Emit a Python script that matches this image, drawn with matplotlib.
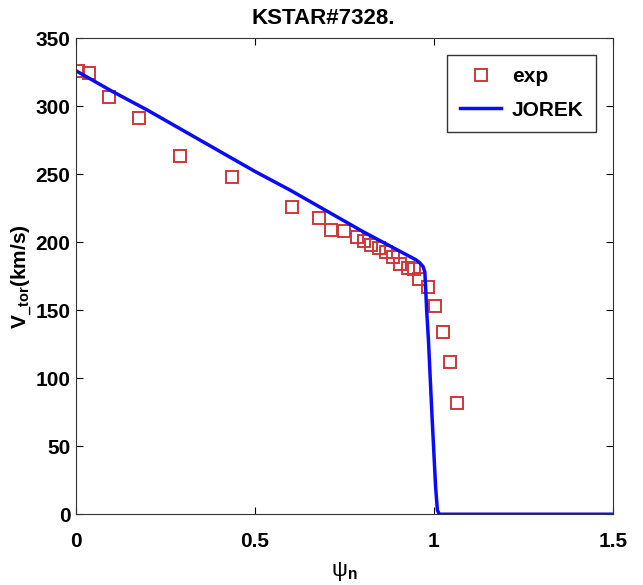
import matplotlib
matplotlib.use("Agg")
import matplotlib.pyplot as plt

# exp data points
psi_exp = [0.006, 0.036, 0.092, 0.176, 0.29, 0.436, 0.603, 0.679, 0.712, 0.749,
           0.785, 0.804, 0.824, 0.846, 0.866, 0.885, 0.905, 0.927, 0.944, 0.958,
           0.983, 1.003, 1.025, 1.045, 1.064]
v_exp = [326, 324, 307, 291, 263, 248, 226, 218, 209, 208,
         204, 201, 198, 196, 193, 189, 184, 181, 180, 173,
         167, 153, 134, 112, 82]

# JOREK profile
psi_jorek = [0, 0.1, 0.2, 0.3, 0.4, 0.5, 0.6, 0.7, 0.8, 0.9, 0.95, 0.96, 0.97,
             0.975, 0.98, 0.985, 0.99, 0.995, 1.0, 1.005, 1.01, 1.015, 1.1, 1.2,
             1.3, 1.4, 1.5]
v_jorek = [326, 311, 297, 282, 267, 252, 238, 223, 208, 194, 187, 185, 182,
           178, 150, 128, 100, 72, 46, 20, 3, 0, 0, 0,
           0, 0, 0]

plt.rcParams['font.family'] = ['Liberation Sans', 'DejaVu Sans']
plt.rcParams['mathtext.fontset'] = 'custom'
plt.rcParams['mathtext.rm'] = 'Liberation Sans'
plt.rcParams['mathtext.bf'] = 'Liberation Sans:bold'

fig = plt.figure(figsize=(6.43, 5.85), dpi=100)
ax = fig.add_axes([0.118, 0.121, 0.835, 0.814])

ax.plot(psi_exp, v_exp, 's', mfc='none', mec='#d03838', mew=1.4, ms=8, label='exp')
ax.plot(psi_jorek, v_jorek, '-', color='#0a0aff', lw=2.5, label='JOREK')

ax.set_xlim(0, 1.5)
ax.set_ylim(0, 350)
ax.set_xticks([0, 0.5, 1, 1.5])
ax.set_xticklabels(['0', '0.5', '1', '1.5'])
ax.set_yticks(range(0, 351, 50))
ax.tick_params(direction='in', length=5, top=True, right=True, labelsize=15)
ax.tick_params(axis='x', pad=13)
ax.tick_params(axis='y', pad=4)
for lab in ax.get_xticklabels() + ax.get_yticklabels():
    lab.set_fontweight('bold')
for s in ax.spines.values():
    s.set_color('#333333')

ax.set_title('KSTAR#7328.', fontsize=16, fontweight='bold', pad=10, x=0.46)
ax.set_xlabel(r'ψ$_\mathbf{n}$', fontsize=16, labelpad=6)
ax.set_ylabel(r'V$_{\mathbf{\_tor}}$(km/s)', fontsize=15, fontweight='bold', labelpad=0)

leg = ax.legend(loc='upper right', fancybox=False, edgecolor='black', fontsize=15,
                borderaxespad=0.8, handlelength=2.0, handletextpad=0.5,
                borderpad=0.6, labelspacing=0.7)
leg.get_frame().set_linewidth(1.0)
for t in leg.get_texts():
    t.set_fontweight('bold')

fig.savefig('out.png', dpi=100)
